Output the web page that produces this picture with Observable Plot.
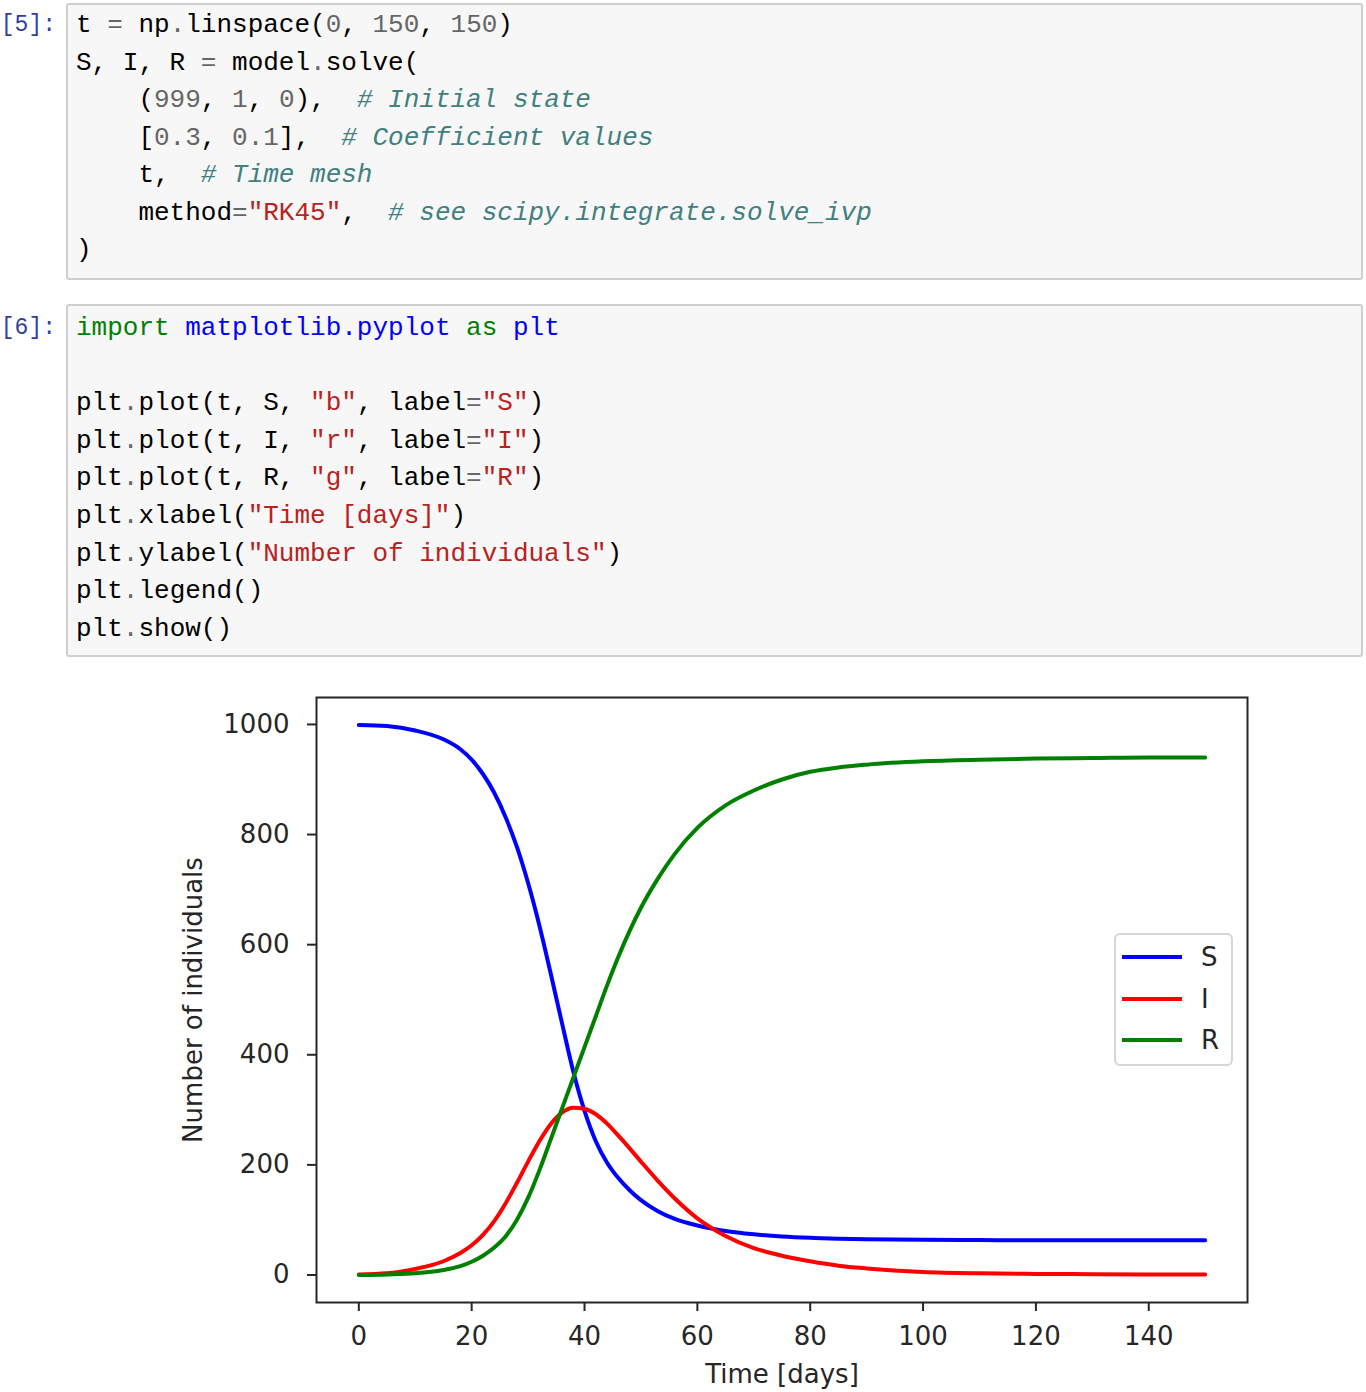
<!DOCTYPE html>
<html>
<head>
<meta charset="utf-8">
<script src="https://cdn.jsdelivr.net/npm/d3@7"></script>
<script src="https://cdn.jsdelivr.net/npm/@observablehq/plot@0.6"></script>
<style>
  html, body { margin: 0; padding: 0; background: #fff; }
  body { width: 1366px; height: 1392px; position: relative; overflow: hidden; }
  .box { position: absolute; left: 66px; width: 1297px; box-sizing: border-box;
         background: #f7f7f7; border: 2px solid #cfcfcf; border-radius: 3px; }
  .line { position: absolute; left: 76px; margin: 0; font-family: "Liberation Mono", "DejaVu Sans Mono", monospace;
          font-size: 26px; color: #000; white-space: pre; }
  .prompt { position: absolute; left: 0; width: 56px; text-align: right; margin: 0;
            font-family: "Liberation Mono", monospace; font-size: 23px; color: #303f9f; line-height: 37.5px; }
  .o { color: #666; }
  .m { color: #666; }
  .s { color: #ba2121; }
  .c { color: #408080; font-style: italic; }
  .k { color: #008000; }
  .nn { color: #0000ff; }
  #chart { position: absolute; left: 0; top: 660px; width: 1366px; }
  #chart g[aria-label$="tick"] path, #chart g[aria-label$="tick"] line, #chart .tick line { stroke-width: 2px; }
  #legend { position: absolute; left: 1114px; top: 933px; width: 119px; height: 133px; box-sizing: border-box;
            border: 2px solid #d6d6d6; border-radius: 6px; background: rgba(255,255,255,0.85);
            font-family: "DejaVu Sans", sans-serif; font-size: 26px; color: #262626; }
  .lg-row { position: absolute; left: 6px; height: 30px; display: flex; align-items: center; }
  .lg-line { width: 60px; height: 4px; margin-right: 19px; }
</style>
</head>
<body>
<div class="box" style="top:3px;height:277px;"></div>
<div class="prompt" style="top:7px;">[5]:</div>
<div class="box" style="top:304px;height:353px;"></div>
<div class="prompt" style="top:310px;">[6]:</div>
<div id="code"></div>
<div id="chart"></div>
<div id="legend"></div>

<script>
// ---- code cell text (token markup: {class:text}) ----
const cell5Lines = [
  't {o:=} np{o:.}linspace({m:0}, {m:150}, {m:150})',
  'S, I, R {o:=} model{o:.}solve(',
  '    ({m:999}, {m:1}, {m:0}),  {c:# Initial state}',
  '    [{m:0.3}, {m:0.1}],  {c:# Coefficient values}',
  '    t,  {c:# Time mesh}',
  '    method{o:=}{s:"RK45"},  {c:# see scipy.integrate.solve_ivp}',
  ')'
];
const cell6Lines = [
  '{k:import} {nn:matplotlib.pyplot} {k:as} {nn:plt}',
  '',
  'plt{o:.}plot(t, S, {s:"b"}, label{o:=}{s:"S"})',
  'plt{o:.}plot(t, I, {s:"r"}, label{o:=}{s:"I"})',
  'plt{o:.}plot(t, R, {s:"g"}, label{o:=}{s:"R"})',
  'plt{o:.}xlabel({s:"Time [days]"})',
  'plt{o:.}ylabel({s:"Number of individuals"})',
  'plt{o:.}legend()',
  'plt{o:.}show()'
];

// ---- data ----
const days = [0, 5, 10, 15, 18, 20, 22, 24, 26, 28, 30, 32, 34, 36, 38, 40, 42, 44, 46, 48, 50, 53, 56, 60, 65, 70, 75, 80, 85, 90, 100, 110, 120, 130, 140, 150];
const susceptible = [999, 997, 989, 973, 955, 936, 910, 876, 832, 778, 712, 635, 548, 458, 370, 298, 243, 204, 176, 154, 136, 116, 102, 90, 80, 74, 70, 67.5, 66, 65, 64, 63.5, 63, 63, 63, 63];
const infected = [1, 3, 11, 25, 40, 54, 73, 98, 130, 167, 206, 243, 274, 295, 304, 302, 292, 275, 253, 230, 206, 171, 139, 103, 71, 49, 35, 25, 17, 12, 5.5, 3, 2, 1.5, 1, 1];
const recovered = [0, 1, 3, 9, 16, 24, 35, 50, 70, 100, 140, 190, 246, 302, 358, 414, 470, 526, 578, 625, 667, 720, 765, 812, 853, 880, 900, 914, 922, 927, 933, 936, 938, 939, 940, 940];
const seriesNames = ["S", "I", "R"];
const seriesColors = ["#0000ff", "#ff0000", "#008000"];
const xTicks = [0, 20, 40, 60, 80, 100, 120, 140];
const yTicks = [0, 200, 400, 600, 800, 1000];
const xTitle = "Time [days]";
const yTitle = "Number of individuals";

// ---- render code cells ----
function renderCell(lines, top, lh) {
  const host = document.getElementById("code");
  lines.forEach((src, i) => {
    const div = document.createElement("div");
    div.className = "line";
    div.style.top = (top + i * lh) + "px";
    div.style.lineHeight = lh + "px";
    div.style.height = lh + "px";
    const re = /\{(\w+):([^}]*)\}/g;
    let last = 0, m;
    const add = (text, cls) => {
      if (!text) return;
      const sp = document.createElement("span");
      if (cls) sp.className = cls;
      sp.textContent = text;
      div.appendChild(sp);
    };
    while ((m = re.exec(src)) !== null) {
      add(src.slice(last, m.index), null);
      add(m[2], m[1]);
      last = re.lastIndex;
    }
    add(src.slice(last), null);
    host.appendChild(div);
  });
}
renderCell(cell5Lines, 7, 37.5);
renderCell(cell6Lines, 310, 37.6);

// ---- chart ----
const seriesValues = [susceptible, infected, recovered];
const rows = seriesNames.flatMap((name, k) =>
  days.map((t, i) => ({ t, v: seriesValues[k][i], name })));

const chart = Plot.plot({
  width: 1366,
  height: 732,
  marginTop: 37,
  marginBottom: 90,
  marginLeft: 316,
  marginRight: 119,
  style: { fontFamily: "DejaVu Sans", fontSize: "26px", color: "#262626", background: "transparent", overflow: "visible" },
  x: { domain: [-7.5, 157.5], ticks: xTicks, tickSize: 9, tickPadding: 15, tickFormat: d3.format("d"), label: null },
  y: { domain: [-49.95, 1048.95], ticks: yTicks, tickSize: 9, tickPadding: 18, tickFormat: d3.format("d"), label: null },
  color: { domain: seriesNames, range: seriesColors },
  marks: [
    Plot.line(rows, { x: "t", y: "v", z: "name", stroke: "name", strokeWidth: 4, curve: "monotone-x" }),
    Plot.frame({ stroke: "#262626", strokeWidth: 2 }),
    Plot.text([xTitle], { frameAnchor: "bottom", text: d => d, dy: 80, fontSize: 26, fill: "#262626" }),
    Plot.text([yTitle], { frameAnchor: "left", textAnchor: "middle", text: d => d, dx: -123, rotate: -90, fontSize: 26, fill: "#262626" })
  ]
});
document.getElementById("chart").appendChild(chart);

// legend built from the series arrays
const legend = document.getElementById("legend");
seriesNames.forEach((name, k) => {
  const row = document.createElement("div");
  row.className = "lg-row";
  row.style.top = (7 + k * 41.5) + "px";
  const ln = document.createElement("div");
  ln.className = "lg-line";
  ln.style.background = seriesColors[k];
  const tx = document.createElement("span");
  tx.textContent = name;
  row.appendChild(ln);
  row.appendChild(tx);
  legend.appendChild(row);
});
</script>
</body>
</html>
